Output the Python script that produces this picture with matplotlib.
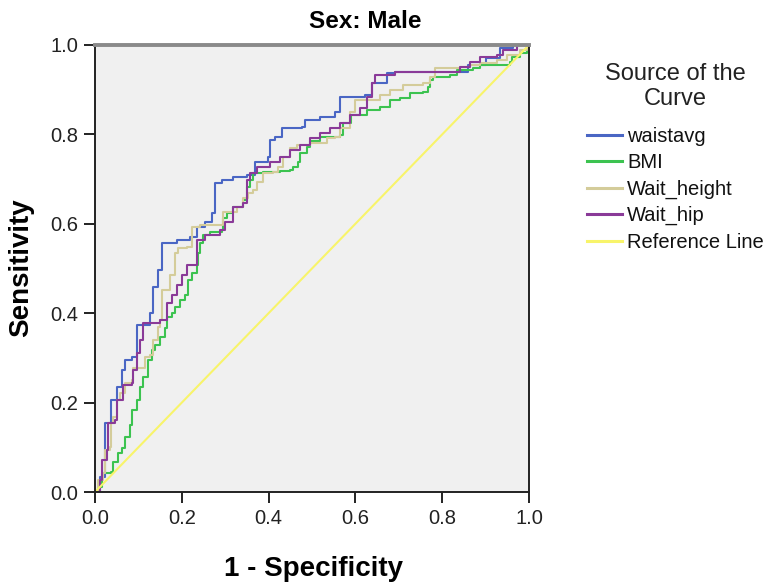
import matplotlib
matplotlib.use("Agg")
import matplotlib.pyplot as plt

plt.rcParams["font.family"] = ["Liberation Sans", "DejaVu Sans"]

# ROC points (1 - specificity, sensitivity)
waist_x = [0, 0.0115, 0.023, 0.023, 0.038, 0.05, 0.05, 0.062, 0.069, 0.085, 0.096, 0.115,
           0.127, 0.134, 0.145, 0.154, 0.188, 0.219, 0.234, 0.253, 0.269, 0.276, 0.292,
           0.318, 0.35, 0.369, 0.399, 0.403, 0.415, 0.43, 0.476, 0.484, 0.518, 0.553,
           0.565, 0.622, 0.638, 0.673, 0.691, 0.825, 0.86, 0.9, 0.933, 0.963, 1]
waist_y = [0, 0.034, 0.056, 0.154, 0.206, 0.206, 0.235, 0.273, 0.295, 0.302, 0.374, 0.374,
           0.40, 0.459, 0.497, 0.557, 0.564, 0.57, 0.593, 0.604, 0.624, 0.691, 0.698,
           0.705, 0.709, 0.738, 0.749, 0.787, 0.794, 0.814, 0.817, 0.832, 0.839, 0.85,
           0.884, 0.888, 0.915, 0.937, 0.94, 0.94, 0.955, 0.97, 0.993, 1.0, 1]

bmi_x = [0, 0.007, 0.015, 0.038, 0.041, 0.053, 0.062, 0.069, 0.081, 0.085, 0.096, 0.104,
         0.111, 0.122, 0.131, 0.138, 0.15, 0.161, 0.165, 0.177, 0.184, 0.196, 0.207,
         0.214, 0.223, 0.234, 0.237, 0.242, 0.249, 0.265, 0.292, 0.295, 0.303, 0.318,
         0.341, 0.35, 0.357, 0.364, 0.387, 0.426, 0.449, 0.456, 0.468, 0.472, 0.488,
         0.495, 0.518, 0.565, 0.571, 0.591, 0.626, 0.657, 0.68, 0.703, 0.726, 0.756,
         0.767, 0.772, 0.779, 0.818, 0.834, 0.871, 0.887, 0.956, 0.961, 0.979, 0.995, 1]
bmi_y = [0, 0.011, 0.043, 0.045, 0.067, 0.087, 0.098, 0.123, 0.15, 0.183, 0.206, 0.235,
         0.257, 0.295, 0.318, 0.329, 0.347, 0.367, 0.391, 0.4, 0.414, 0.43, 0.441,
         0.474, 0.49, 0.508, 0.535, 0.557, 0.575, 0.582, 0.586, 0.613, 0.624, 0.638,
         0.653, 0.682, 0.698, 0.714, 0.716, 0.718, 0.72, 0.727, 0.738, 0.758, 0.772,
         0.785, 0.794, 0.799, 0.826, 0.843, 0.855, 0.861, 0.877, 0.881, 0.893, 0.895,
         0.906, 0.922, 0.928, 0.933, 0.944, 0.949, 0.955, 0.962, 0.973, 0.982, 0.996, 1]

wh_x = [0, 0.007, 0.018, 0.023, 0.035, 0.038, 0.041, 0.05, 0.058, 0.069, 0.085, 0.088,
        0.108, 0.115, 0.127, 0.134, 0.145, 0.15, 0.154, 0.173, 0.184, 0.184, 0.191,
        0.211, 0.223, 0.242, 0.276, 0.295, 0.327, 0.341, 0.353, 0.364, 0.373, 0.387,
        0.41, 0.422, 0.433, 0.449, 0.465, 0.495, 0.534, 0.553, 0.565, 0.588, 0.599,
        0.626, 0.657, 0.68, 0.71, 0.756, 0.772, 0.783, 0.825, 0.841, 0.864, 0.887,
        0.926, 0.949, 0.979, 0.995, 1]
wh_y = [0, 0.027, 0.043, 0.094, 0.101, 0.154, 0.168, 0.206, 0.221, 0.244, 0.251, 0.277,
        0.277, 0.302, 0.306, 0.34, 0.369, 0.385, 0.452, 0.485, 0.508, 0.535, 0.546,
        0.548, 0.593, 0.597, 0.597, 0.626, 0.638, 0.658, 0.669, 0.676, 0.694, 0.714,
        0.716, 0.727, 0.749, 0.77, 0.776, 0.781, 0.792, 0.794, 0.814, 0.85, 0.877,
        0.877, 0.888, 0.899, 0.911, 0.915, 0.928, 0.949, 0.949, 0.951, 0.955, 0.96,
        0.966, 0.978, 0.989, 0.996, 1]

hip_x = [0, 0.0115, 0.015, 0.027, 0.03, 0.046, 0.05, 0.065, 0.085, 0.088, 0.096, 0.104,
         0.111, 0.15, 0.165, 0.177, 0.188, 0.2, 0.211, 0.234, 0.253, 0.288, 0.3, 0.318,
         0.341, 0.35, 0.357, 0.373, 0.403, 0.426, 0.449, 0.472, 0.495, 0.518, 0.541,
         0.565, 0.588, 0.611, 0.626, 0.638, 0.645, 0.691, 0.825, 0.841, 0.864, 0.887,
         0.926, 0.94, 0.972, 1]
hip_y = [0, 0.027, 0.072, 0.094, 0.154, 0.161, 0.206, 0.239, 0.244, 0.273, 0.311, 0.34,
         0.378, 0.385, 0.423, 0.441, 0.463, 0.485, 0.508, 0.564, 0.575, 0.586, 0.604,
         0.638, 0.647, 0.698, 0.714, 0.727, 0.738, 0.749, 0.765, 0.776, 0.792, 0.803,
         0.814, 0.826, 0.843, 0.859, 0.884, 0.915, 0.933, 0.94, 0.94, 0.951, 0.962,
         0.973, 0.978, 0.989, 1, 1]

ref_x = [0, 1]
ref_y = [0, 1]

series = [
    ("waistavg", waist_x, waist_y, "#4a66c4"),
    ("BMI", bmi_x, bmi_y, "#3cc350"),
    ("Wait_height", wh_x, wh_y, "#d4cc9a"),
    ("Wait_hip", hip_x, hip_y, "#8a3a98"),
]

fig = plt.figure(figsize=(7.71, 5.84), dpi=100)
ax = fig.add_axes([95 / 771, 1 - 492 / 584, 434 / 771, 447 / 584])
ax.set_facecolor("#f0f0f0")

for name, xs, ys, col in series:
    ax.plot(xs, ys, drawstyle="steps-post", color=col, lw=1.5, label=name)
ax.plot(ref_x, ref_y, color="#f8f46a", lw=1.5, label="Reference Line")

ax.set_xlim(0, 1)
ax.set_ylim(0, 1)
ticks = [0.0, 0.2, 0.4, 0.6, 0.8, 1.0]
ax.set_xticks(ticks)
ax.set_yticks(ticks)
ax.set_xticklabels(["%.1f" % t for t in ticks])
ax.set_yticklabels(["%.1f" % t for t in ticks])
ax.tick_params(direction="out", length=8, width=1.4, pad=4, labelsize=14.5,
               colors="#222222")
for s in ax.spines.values():
    s.set_linewidth(1.4)
    s.set_color("#222222")
ax.spines["top"].set_color("#8a8a8a")
ax.spines["top"].set_linewidth(2.8)

fig.text(365 / 771, 1 - 21 / 584, "Sex: Male", ha="center", va="center",
         fontsize=17.5, fontweight="bold")
fig.text(21 / 771, 1 - 268 / 584, "Sensitivity", ha="center", va="center",
         rotation=90, fontsize=20, fontweight="bold")
fig.text(313 / 771, 1 - 569 / 584, "1 - Specificity", ha="center", va="center",
         fontsize=20, fontweight="bold")

leg = ax.legend(loc="upper left", bbox_to_anchor=(587 / 771, 1 - 63 / 584),
                bbox_transform=fig.transFigure, frameon=False,
                title="Source of the\nCurve", fontsize=14.5,
                title_fontproperties={"size": 17},
                handlelength=1.75, handletextpad=0.25, labelspacing=0.36,
                borderaxespad=0, borderpad=0)
leg._legend_box.align = "center"
leg._legend_box.sep = 12
leg.get_title().set_multialignment("center")
leg.get_title().set_color("#222222")
for t in leg.get_texts():
    t.set_color("#111111")
for line in leg.get_lines():
    line.set_linewidth(2.2)

fig.savefig("out.png", dpi=100)
